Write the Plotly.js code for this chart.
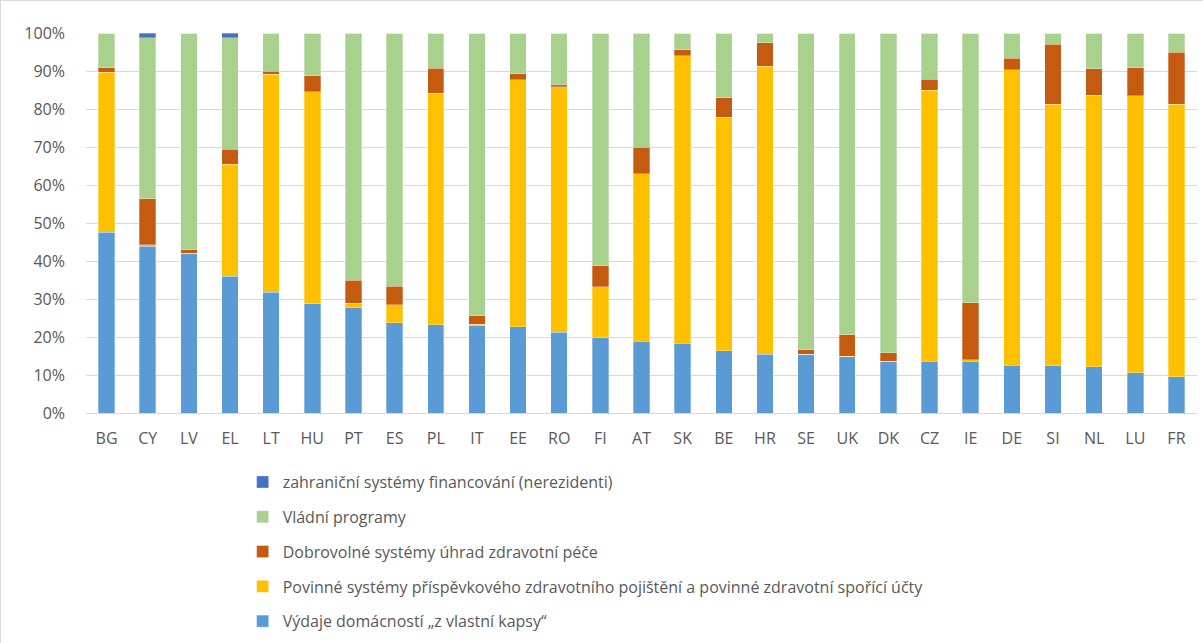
<!DOCTYPE html>
<html><head><meta charset="utf-8">
<script src="https://cdn.plot.ly/plotly-3.0.1.min.js"></script>
<style>html,body{margin:0;padding:0;background:#fff}#chart{width:1203px;height:643px;box-sizing:border-box;border:1px solid #d9d9d9}</style>
</head><body><div id="chart"></div>
<script>
const countries = ["BG","CY","LV","EL","LT","HU","PT","ES","PL","IT","EE","RO","FI","AT","SK","BE","HR","SE","UK","DK","CZ","IE","DE","SI","NL","LU","FR"];
// cumulative tops (percent)
const topOOP   = [47.6,43.9,42.1,36.0,31.8,28.8,27.7,23.7,23.2,23.0,22.7,21.2,19.8,18.9,18.3,16.4,15.4,15.4,14.8,13.6,13.6,13.6,12.6,12.4,12.2,10.6,9.6];
const topComp  = [89.7,44.3,42.1,65.4,89.1,84.6,28.9,28.5,84.1,23.4,87.7,85.8,33.2,63.0,94.0,77.8,91.3,15.4,15.0,13.6,85.0,14.0,90.3,81.3,83.6,83.5,81.3];
const topVol   = [90.8,56.4,42.9,69.4,90.0,88.8,35.0,33.4,90.7,25.6,89.3,86.4,38.8,69.9,95.6,83.0,97.5,16.6,20.6,15.8,87.8,29.0,93.3,97.0,90.6,90.9,94.9];
const topGov   = [100,98.8,100,98.8,100,100,100,100,100,100,100,100,100,100,100,100,100,100,100,100,100,100,100,100,100,100,100];
const topFor   = [100,100,100,100,100,100,100,100,100,100,100,100,100,100,100,100,100,100,100,100,100,100,100,100,100,100,100];

const r1 = v => Math.round(v*10)/10;
const oop  = topOOP.map(r1);
const comp = topComp.map((v,i)=>r1(v-topOOP[i]));
const vol  = topVol.map((v,i)=>r1(v-topComp[i]));
const gov  = topGov.map((v,i)=>r1(v-topVol[i]));
const forn = topFor.map((v,i)=>r1(v-topGov[i]));

const names = ["Výdaje domácností „z vlastní kapsy“",
  "Povinné systémy příspěvkového zdravotního pojištění a povinné zdravotní spořící účty",
  "Dobrovolné systémy úhrad zdravotní péče",
  "Vládní programy",
  "zahraniční systémy financování (nerezidenti)"];
const colors = ["#5B9BD5","#FFC000","#C55A11","#A9D18E","#4472C4"];
const series = [oop, comp, vol, gov, forn];

const traces = series.map((s,i)=>({
  type:'bar', x:countries, y:s.map(v=>v/100), name:names[i],
  legendgroup:'g'+i, legendrank: 5-i,
  marker:{color:colors[i], line:{color:'rgba(255,255,255,0.6)', width:0.5}},
  hoverinfo:'x+y+name'
}));

const font = {family:'"Open Sans", sans-serif', color:'#595959', size:16};
const layout = {
  width:1203, height:643, barmode:'stack', bargap:0.6,
  margin:{l:85, r:7, t:32, b:230},
  paper_bgcolor:'#fff', plot_bgcolor:'#fff', font:font,
  xaxis:{tickfont:{...font}, showline:false, ticks:'', ticklabelstandoff:14, fixedrange:true, automargin:false},
  yaxis:{range:[0,1], dtick:0.1, tickformat:'.0%', gridcolor:'#d9d9d9', gridwidth:1,
         zeroline:true, zerolinecolor:'#d9d9d9', zerolinewidth:1,
         tickfont:{...font}, ticklabelstandoff:20, fixedrange:true, automargin:false},
  showlegend:true,
  legend:{orientation:'v', x:0.141, xanchor:'left', y:-0.134, yanchor:'top',
          traceorder:'grouped', tracegroupgap:11,
          font:{...font}, itemwidth:30}
};
Plotly.newPlot('chart', traces, layout, {displayModeBar:false, staticPlot:true});
</script></body></html>
